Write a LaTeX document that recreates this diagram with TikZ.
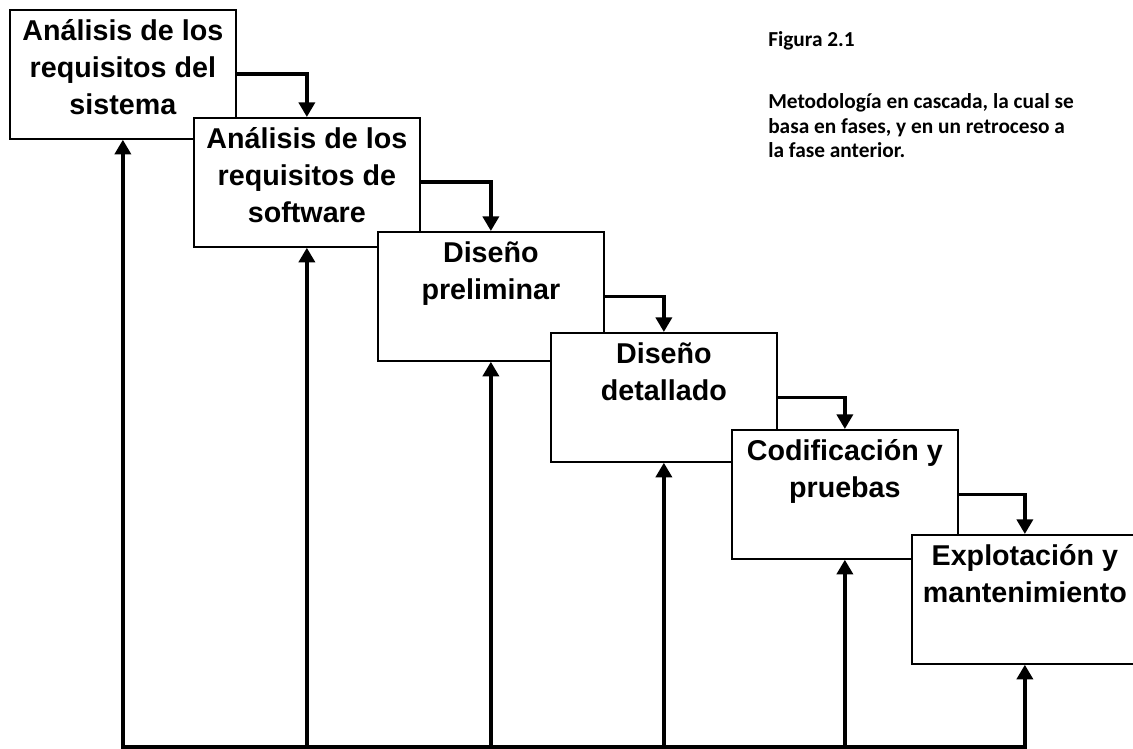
\documentclass[tikz,border=0pt]{standalone}
\usepackage{fontspec}
\setmainfont{Liberation Sans}
\newfontfamily\notefont{Carlito}
\usetikzlibrary{arrows.meta}

\begin{document}
\begin{tikzpicture}[x=0.75pt, y=-0.75pt,
    phase/.style={draw, line width=1.3pt, fill=white, anchor=north west,
        minimum width=169.5pt, minimum height=96.75pt, inner sep=0pt},
    phasetext/.style={anchor=north, align=center, inner sep=0pt,
        font=\fontsize{21.5}{27.75}\selectfont\bfseries},
    flow/.style={line width=2.8pt, -{Triangle[width=12pt, length=11pt]}},
    note/.style={anchor=base west, align=left, inner sep=0pt,
        font=\notefont\fontsize{16}{18}\selectfont\bfseries}]

    \useasboundingbox (0,0) rectangle (1133,749);

    % fases
    \node[phase] (b1) at (9,9) {};
    \node[phasetext] (t1) at ([yshift=-3.8pt]b1.north) {\strut Análisis de los\\requisitos del\\sistema};
    \node[phase] (b2) at (193,117) {};
    \node[phasetext] (t2) at ([yshift=-3.8pt]b2.north) {\strut Análisis de los\\requisitos de\\software};
    \node[phase] (b3) at (377,231) {};
    \node[phasetext] (t3) at ([yshift=-3.8pt]b3.north) {\strut Diseño\\preliminar};
    \node[phase] (b4) at (550,332) {};
    \node[phasetext] (t4) at ([yshift=-3.8pt]b4.north) {\strut Diseño\\detallado};
    \node[phase] (b5) at (731,429) {};
    \node[phasetext] (t5) at ([yshift=-3.8pt]b5.north) {\strut Codificación y\\pruebas};
    \node[phase] (b6) at (911,534) {};
    \node[phasetext] (t6) at ([yshift=-3.8pt]b6.north) {\strut Explotación y\\mantenimiento};

    % cascada
    \draw[flow] (b1.east) -| (b2.north);
    \draw[flow] (b2.east) -| (b3.north);
    \draw[flow] (b3.east) -| (b4.north);
    \draw[flow] (b4.east) -| (b5.north);
    \draw[flow] (b5.east) -| (b6.north);

    % retroceso
    \coordinate (base) at (0,747);
    \draw[line width=2.8pt, line cap=rect] (b1.south |- base) -- (b6.south |- base);
    \foreach \b in {b1,b2,b3,b4,b5,b6}
        \draw[flow] (\b.south |- base) -- (\b.south);

    \node[note] (fig) at (768,47) {Figura 2.1};
    \node[note] (desc) at (768,157) {Metodología en cascada, la cual se\\basa en fases, y en un retroceso a\\la fase anterior.};
\end{tikzpicture}
\end{document}
